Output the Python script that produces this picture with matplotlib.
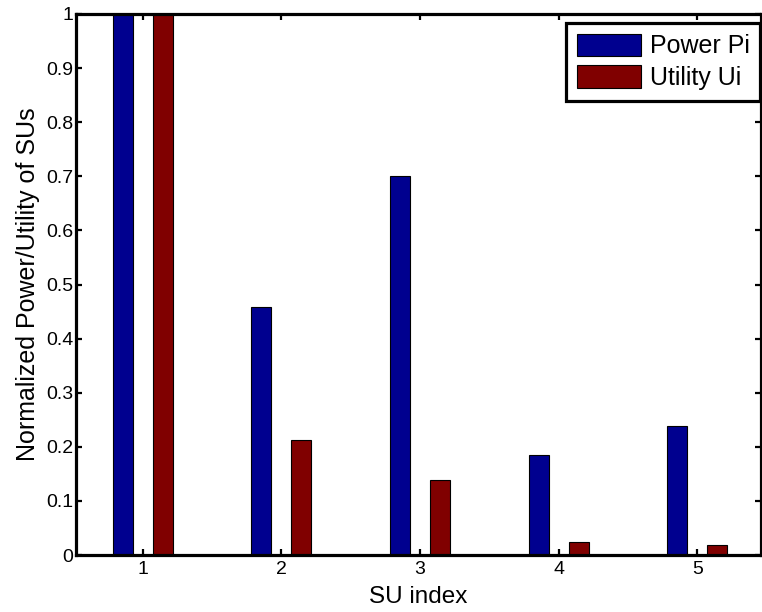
import matplotlib
matplotlib.use("Agg")
import matplotlib.pyplot as plt
import numpy as np

plt.rcParams['font.family'] = ['Liberation Sans', 'DejaVu Sans']

su_index = [1, 2, 3, 4, 5]
power = [1.0, 0.458, 0.700, 0.184, 0.238]
utility = [1.0, 0.213, 0.139, 0.024, 0.018]
yticks = [0, 0.1, 0.2, 0.3, 0.4, 0.5, 0.6, 0.7, 0.8, 0.9, 1]
ytick_labels = ['0', '0.1', '0.2', '0.3', '0.4', '0.5', '0.6', '0.7', '0.8', '0.9', '1']

W, H = 762, 612
fig = plt.figure(figsize=(W / 100, H / 100), dpi=100)
ax = fig.add_axes([76 / W, 1 - 555 / H, (761 - 76) / W, (555 - 14) / H])

x = np.array(su_index, dtype=float)
bw = 0.144
ax.bar(x - 0.144, power, width=bw, color='#00008F', edgecolor='black', linewidth=0.8,
       label='Power Pi', zorder=2)
ax.bar(x + 0.144, utility, width=bw, color='#800000', edgecolor='black', linewidth=0.8,
       label='Utility Ui', zorder=2)

ax.set_xlim(0.52, 5.459)
ax.set_ylim(0, 1)
ax.set_xticks(su_index)
ax.set_yticks(yticks)
ax.set_yticklabels(ytick_labels)

for s in ax.spines.values():
    s.set_linewidth(2.3)
    s.set_zorder(5)
ax.tick_params(direction='in', length=4.5, width=1.6, top=True, right=True,
               labelsize=14, pad=2, colors='black')
ax.tick_params(axis='x', pad=4)

ax.set_xlabel('SU index', fontsize=17.5, labelpad=6)
ax.set_ylabel('Normalized Power/Utility of SUs', fontsize=18, labelpad=4)

leg = ax.legend(loc='upper right', bbox_to_anchor=(760 / W, 1 - 23 / H),
                bbox_transform=fig.transFigure, fontsize=18, frameon=True,
                fancybox=False, framealpha=1, edgecolor='black',
                handlelength=2.56, handleheight=1.0, handletextpad=0.36,
                borderpad=0.42, labelspacing=0.28, borderaxespad=0)
leg.get_frame().set_linewidth(2.3)
leg.set_zorder(10)

fig.savefig('out.png', dpi=100)
